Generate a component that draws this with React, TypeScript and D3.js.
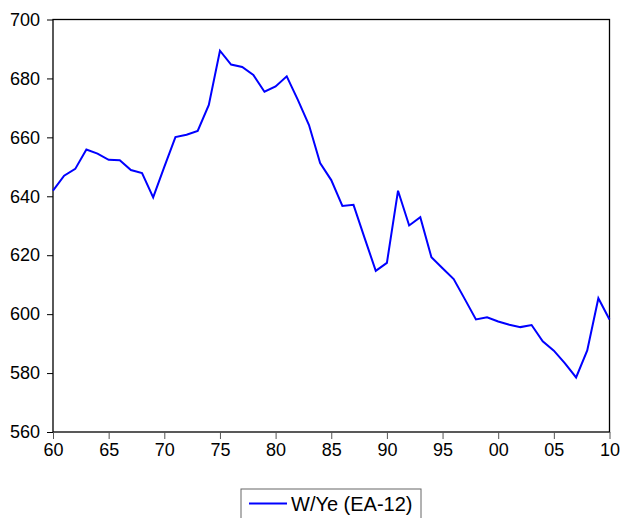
import React, { useRef, useEffect } from "react";
import * as d3 from "d3";

const years = d3.range(1960, 2011);
const wye = [
  641.9, 647.0, 649.3, 655.9, 654.5, 652.4, 652.2, 648.9, 647.9, 639.6,
  650.0, 660.1, 660.9, 662.2, 671.0, 689.4, 684.7, 683.9, 681.2, 675.5,
  677.3, 680.7, 672.7, 664.2, 651.3, 645.5, 636.7, 637.1, 625.8, 614.7,
  617.4, 641.9, 630.1, 632.9, 619.3, 615.6, 611.9, 605.1, 598.2, 598.9,
  597.5, 596.4, 595.6, 596.3, 590.8, 587.6, 583.3, 578.5, 587.7, 605.4,
  598.2,
];
const yTicks = [560, 580, 600, 620, 640, 660, 680, 700];
const xTicks = [1960, 1965, 1970, 1975, 1980, 1985, 1990, 1995, 2000, 2005, 2010];
const seriesName = "W/Ye (EA-12)";

const W = 623;
const H = 518;
const margin = { left: 53, right: 13.5, top: 19.5, bottom: 86 };

const App = () => {
  const ref = useRef<SVGSVGElement>(null);

  useEffect(() => {
    const svg = d3.select(ref.current);
    svg.selectAll("*").remove();

    const x = d3
      .scaleLinear()
      .domain([1960, 2010])
      .range([margin.left, W - margin.right]);
    const y = d3
      .scaleLinear()
      .domain([560, 700])
      .range([H - margin.bottom, margin.top]);

    const font = "Liberation Sans, Arial, sans-serif";

    // frame
    svg
      .append("rect")
      .attr("x", x(1960))
      .attr("y", y(700))
      .attr("width", x(2010) - x(1960))
      .attr("height", y(560) - y(700))
      .attr("fill", "none")
      .attr("stroke", "#000")
      .attr("stroke-width", 1.3);

    // y axis
    const yAxis = svg
      .append("g")
      .attr("transform", `translate(${x(1960)},0)`)
      .call(d3.axisLeft(y).tickValues(yTicks).tickSize(6).tickPadding(7));
    yAxis.select(".domain").remove();
    yAxis.selectAll("line").attr("stroke", "#000");
    yAxis
      .selectAll("text")
      .attr("font-family", font)
      .attr("font-size", 18)
      .attr("fill", "#000");

    // x axis
    const xAxis = svg
      .append("g")
      .attr("transform", `translate(0,${y(560)})`)
      .call(
        d3
          .axisBottom(x)
          .tickValues(xTicks)
          .tickSize(7)
          .tickPadding(4)
          .tickFormat((d) => d3.format("02d")(+d % 100))
      );
    xAxis.select(".domain").remove();
    xAxis.selectAll("line").attr("stroke", "#555");
    xAxis
      .selectAll("text")
      .attr("font-family", font)
      .attr("font-size", 18)
      .attr("fill", "#000");

    // series
    const line = d3
      .line<number>()
      .x((_, i) => x(years[i]))
      .y((d) => y(d));
    svg
      .append("path")
      .datum(wye)
      .attr("d", line)
      .attr("fill", "none")
      .attr("stroke", "#0000ff")
      .attr("stroke-width", 2)
      .attr("stroke-linejoin", "miter");

    // legend
    const lg = svg.append("g");
    lg.append("rect")
      .attr("x", 241)
      .attr("y", 489)
      .attr("width", 180)
      .attr("height", 40)
      .attr("fill", "#fff")
      .attr("stroke", "#666")
      .attr("stroke-width", 1);
    lg.append("line")
      .attr("x1", 249)
      .attr("x2", 287)
      .attr("y1", 503.5)
      .attr("y2", 503.5)
      .attr("stroke", "#0000ff")
      .attr("stroke-width", 2);
    lg.append("text")
      .attr("x", 291)
      .attr("y", 511)
      .attr("font-family", font)
      .attr("font-size", 20)
      .attr("fill", "#000")
      .text(seriesName);
  }, []);

  return (
    <svg
      ref={ref}
      width={W}
      height={H}
      style={{ position: "absolute", left: 0, top: 0, background: "#fff" }}
    />
  );
};

export default App;
